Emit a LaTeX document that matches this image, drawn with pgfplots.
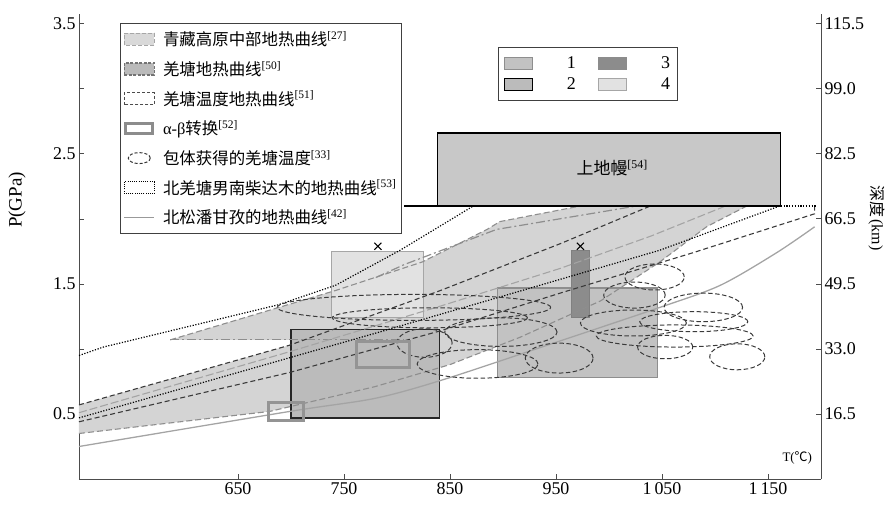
\documentclass[border=0pt]{standalone}
\usepackage{fontspec}
\setmainfont{Liberation Serif}
\newfontfamily\cjk{Noto Sans CJK SC}
\usepackage{pgfplots}
\pgfplotsset{compat=1.18}

\definecolor{zoneA}{HTML}{D4D4D4}
\definecolor{boxone}{HTML}{C2C2C2}
\definecolor{boxtwo}{HTML}{BBBBBB}
\definecolor{boxthree}{HTML}{8C8C8C}
\definecolor{boxfour}{HTML}{E2E2E2}
\definecolor{mantle}{HTML}{C8C8C8}
\definecolor{edgegray}{HTML}{8E8E8E}
\definecolor{linegray}{HTML}{A4A4A4}
\definecolor{dashdark}{HTML}{3A3A3A}

\tikzset{ell/.style={dashdark, line width=1pt, dash pattern=on 4.5bp off 2.5bp}}
\pgfplotsset{
  geo/.style={scale only axis, width=742bp, height=465.4bp,
    at={(0,0)}, anchor=south west,
    xmin=500, xmax=1200, ymin=0, ymax=3.58,
    tick align=inside, major tick length=5bp,
    axis line style={line width=1pt, black!70},
    tick style={line width=1pt, black!70},
    tick label style={font=\fontsize{18}{20}\selectfont}},
  qdash/.style={dashdark, line width=1.1pt, dash pattern=on 5bp off 3bp},
  gdash/.style={edgegray, line width=1.1pt, dash pattern=on 6bp off 3bp},
  ldash/.style={linegray, line width=1.1pt, dash pattern=on 8bp off 3bp},
  dotl/.style={black, line width=1.2pt, dash pattern=on 1.2bp off 1.6bp},
}

\begin{document}
\begin{tikzpicture}
\path[use as bounding box] (-79bp,-28bp) rectangle (808bp,479bp);

\begin{axis}[geo,
  axis x line*=bottom, axis y line*=left,
  xtick={650,750,850,950,1050,1150},
  xticklabels={650,750,850,950,1\,050,1\,150},
  ytick={0.5,1,1.5,2,2.5,3,3.5},
  yticklabels={0.5,,1.5,,2.5,,3.5},
  ylabel={P(GPa)},
  ylabel style={at={(rel axis cs:-0.0836,0.5995)}, anchor=center, font=\fontsize{19}{21}\selectfont},
  xlabel={T({\cjk ℃})},
  xlabel style={at={(rel axis cs:0.968,0.045)}, anchor=center, font=\fontsize{13}{15}\selectfont},
  legend style={at={(0.0553,0.980)}, anchor=north west, draw=black!75, line width=1pt,
    font=\fontsize{16.5}{18}\selectfont, row sep=10bp, inner xsep=3bp, inner ysep=6bp,
    /tikz/every odd column/.append style={column sep=6bp}},
  legend cell align=left,
]
% legend entries
\addlegendimage{legend image code/.code={\draw[fill=black!15, draw=black!35, line width=1pt, dash pattern=on 4bp off 2bp] (0bp,-6bp) rectangle (30bp,6bp);}}
\addlegendentry{{\cjk 青藏高原中部地热曲线}\textsuperscript{[27]}}
\addlegendimage{legend image code/.code={\draw[fill=black!27, draw=black!55, line width=1.5pt, dash pattern=on 3bp off 1.5bp] (0bp,-6bp) rectangle (30bp,6bp);}}
\addlegendentry{{\cjk 羌塘地热曲线}\textsuperscript{[50]}}
\addlegendimage{legend image code/.code={\draw[draw=black!70, line width=1pt, dash pattern=on 3bp off 2bp] (0bp,-6bp) rectangle (30bp,6bp);}}
\addlegendentry{{\cjk 羌塘温度地热曲线}\textsuperscript{[51]}}
\addlegendimage{legend image code/.code={\draw[draw=black!45, line width=3pt] (1.5bp,-5bp) rectangle (28.5bp,5bp);}}
\addlegendentry{α-β{\cjk 转换}\textsuperscript{[52]}}
\addlegendimage{legend image code/.code={\draw[black!80, line width=1pt, dash pattern=on 3bp off 2bp] (15bp,0bp) ellipse [x radius=11bp, y radius=5.5bp];}}
\addlegendentry{{\cjk 包体获得的羌塘温度}\textsuperscript{[33]}}
\addlegendimage{legend image code/.code={\draw[black, line width=1pt, dash pattern=on 1bp off 1.2bp] (0bp,-6bp) rectangle (30bp,6bp);}}
\addlegendentry{{\cjk 北羌塘男南柴达木的地热曲线}\textsuperscript{[53]}}
\addlegendimage{legend image code/.code={\draw[black!40, line width=1.2pt] (0bp,0bp) -- (30bp,0bp);}}
\addlegendentry{{\cjk 北松潘甘孜的地热曲线}\textsuperscript{[42]}}

% shaded geotherm field
\addplot[fill=zoneA, draw=none, forget plot] coordinates {
  (500,0.35) (680,0.52) (779,0.71) (850,0.88) (916,1.09) (992,1.37)
  (1048,1.67) (1092,1.94) (1130,2.1) (973,2.1) (897,1.98) (885,1.92)
  (824,1.67) (742,1.45) (586,1.07) (699,1.07) (699,1.03) (600,0.80) (500,0.57)
} -- cycle;

% P-T boxes
\addplot[fill=boxone, draw=edgegray, line width=1.3pt, forget plot] coordinates {
  (895,0.78) (1046,0.78) (1046,1.47) (895,1.47)} -- cycle;
\addplot[fill=boxtwo, draw=black!85, line width=1.5pt, forget plot] coordinates {
  (700,0.47) (840,0.47) (840,1.15) (700,1.15)} -- cycle;
\addplot[fill=boxthree, draw=black!50, line width=1pt, forget plot] coordinates {
  (965,1.24) (982,1.24) (982,1.76) (965,1.76)} -- cycle;
\addplot[fill=boxfour, draw=black!35, line width=1.2pt, forget plot] coordinates {
  (738,1.24) (825,1.24) (825,1.75) (738,1.75)} -- cycle;

% geotherms
\addplot[gdash, forget plot] coordinates {
  (500,0.35) (680,0.52) (779,0.71) (850,0.88) (916,1.09) (992,1.37)
  (1048,1.67) (1092,1.94) (1130,2.1)};
\addplot[gdash, forget plot] coordinates {
  (586,1.07) (742,1.45) (824,1.67) (885,1.92) (897,1.98) (973,2.1)};
\addplot[edgegray, line width=1.2pt, dash pattern=on 9bp off 3bp on 2bp off 3bp, forget plot] coordinates {
  (586,1.07) (806,1.07)};
\addplot[edgegray, line width=1.2pt, dash pattern=on 9bp off 3bp on 2bp off 3bp, forget plot] coordinates {
  (780,1.55) (807,1.65) (894,1.92) (1026,2.1)};
\addplot[ldash, forget plot] coordinates {
  (500,0.51) (699,0.98) (841,1.33) (954,1.62) (1040,1.87) (1110,2.1)};
\addplot[qdash, forget plot] coordinates {
  (500,0.57) (600,0.80) (699,1.03) (841,1.45) (954,1.81) (1039,2.1)};
\addplot[qdash, forget plot] coordinates {
  (500,0.44) (699,0.82) (841,1.14) (954,1.43) (1079,1.74) (1194,2.04) (1194,2.1)};
\addplot[dotl, forget plot] coordinates {
  (500,0.95) (523,1.015) (688,1.34) (742,1.49) (803,1.76) (872,2.1)};
\addplot[dotl, forget plot] coordinates {
  (500,0.47) (779,1.12) (897,1.40) (1048,1.76) (1161,2.1)};
\addplot[dotl, forget plot] coordinates {(1162,2.1) (1195,2.1)};
\addplot[linegray, line width=1.3pt, smooth, forget plot] coordinates {
  (500,0.25) (699,0.52) (779,0.62) (842,0.76) (942,1.03) (1048,1.32)
  (1105,1.49) (1158,1.74) (1194,1.94)};

% inclusion temperatures
\draw[ell] (axis cs:816,1.32) ellipse [x radius=129, y radius=0.10];
\draw[ell] (axis cs:831,1.24) ellipse [x radius=92, y radius=0.077];
\draw[ell] (axis cs:898,1.13) ellipse [x radius=53, y radius=0.11];
\draw[ell] (axis cs:826,1.046) ellipse [x radius=26, y radius=0.11];
\draw[ell] (axis cs:876,0.885) ellipse [x radius=57, y radius=0.11];
\draw[ell] (axis cs:953,0.93) ellipse [x radius=32, y radius=0.115];
\draw[ell] (axis cs:1043,1.554) ellipse [x radius=28, y radius=0.10];
\draw[ell] (axis cs:1024,1.415) ellipse [x radius=29, y radius=0.10];
\draw[ell] (axis cs:1089,1.32) ellipse [x radius=37, y radius=0.11];
\draw[ell] (axis cs:1023,1.20) ellipse [x radius=50, y radius=0.10];
\draw[ell] (axis cs:1080,1.21) ellipse [x radius=51, y radius=0.077];
\draw[ell] (axis cs:1062,1.10) ellipse [x radius=74, y radius=0.085];
\draw[ell] (axis cs:1053,1.015) ellipse [x radius=26, y radius=0.09];
\draw[ell] (axis cs:1121,0.94) ellipse [x radius=26, y radius=0.10];

% alpha-beta transition
\addplot[draw=black!42, line width=3pt, forget plot] coordinates {
  (679,0.45) (712,0.45) (712,0.59) (679,0.59)} -- cycle;
\addplot[draw=black!42, line width=3pt, forget plot] coordinates {
  (762,0.86) (812,0.86) (812,1.06) (762,1.06)} -- cycle;

% upper mantle
\addplot[black, line width=1.3pt, forget plot] coordinates {(807,2.1) (1162,2.1)};
\addplot[fill=mantle, draw=black, line width=1.5pt, forget plot] coordinates {
  (838,2.1) (1162,2.1) (1162,2.66) (838,2.66)} -- cycle;
\node[font=\fontsize{17}{19}\selectfont] at (axis cs:1003,2.39) {{\cjk 上地幔}\textsuperscript{[54]}};

\addplot[only marks, mark=x, mark size=5bp, black, line width=1.1pt, forget plot] coordinates {
  (782,1.79) (973,1.79)};
\end{axis}

\begin{axis}[geo,
  axis x line=none, axis y line*=right,
  ytick={0.5,1,1.5,2,2.5,3,3.5},
  yticklabels={16.5,33.0,49.5,66.5,82.5,99.0,115.5},
  ylabel={{\cjk 深度}\,(km)},
  ylabel style={at={(rel axis cs:1.0755,0.561)}, anchor=center, rotate=180, font=\fontsize{16}{18}\selectfont},
  legend columns=2,
  legend style={at={(0.5647,0.928)}, anchor=north west, draw=black!75, line width=1pt,
    font=\fontsize{18}{20}\selectfont, row sep=4bp, inner xsep=5bp, inner ysep=7bp,
    /tikz/every odd column/.append style={column sep=32bp},
    /tikz/every even column/.append style={column sep=20bp}},
]
\addlegendimage{legend image code/.code={\draw[fill=boxone, draw=edgegray, line width=1.3pt] (0bp,-6bp) rectangle (28bp,6bp);}}
\addlegendentry{1}
\addlegendimage{legend image code/.code={\draw[fill=boxthree, draw=boxthree, line width=1pt] (0bp,-6bp) rectangle (28bp,6bp);}}
\addlegendentry{3}
\addlegendimage{legend image code/.code={\draw[fill=boxtwo, draw=black, line width=1.5pt] (0bp,-6bp) rectangle (28bp,6bp);}}
\addlegendentry{2}
\addlegendimage{legend image code/.code={\draw[fill=boxfour, draw=black!35, line width=1.2pt] (0bp,-6bp) rectangle (28bp,6bp);}}
\addlegendentry{4}
\end{axis}
\end{tikzpicture}
\end{document}
